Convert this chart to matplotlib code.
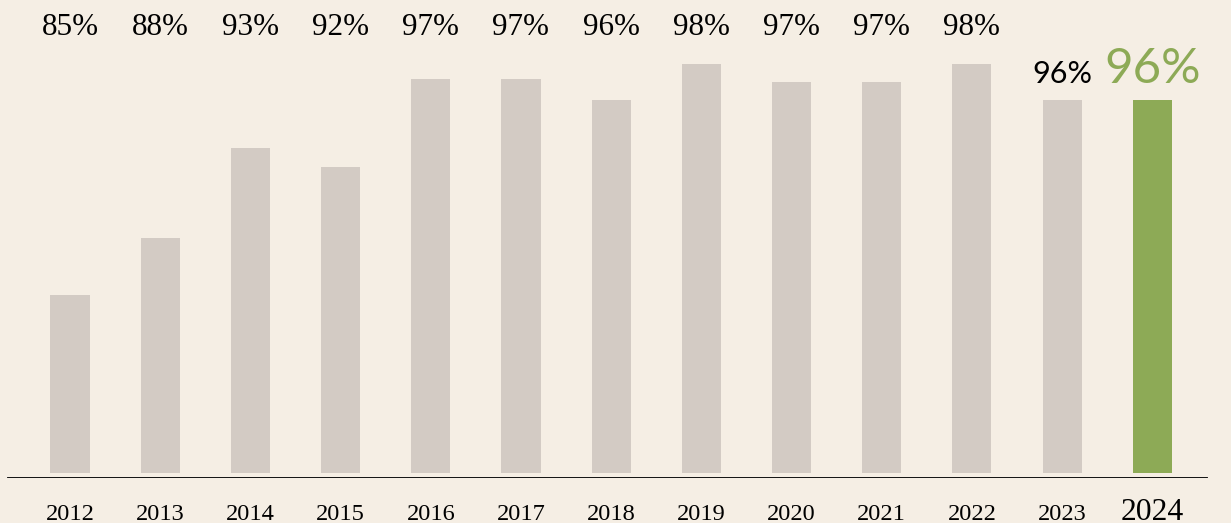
import matplotlib
matplotlib.use("Agg")
import matplotlib.pyplot as plt
import matplotlib.transforms as mtransforms

years = ["2012", "2013", "2014", "2015", "2016", "2017", "2018", "2019", "2020", "2021", "2022", "2023", "2024"]
values = [85.0, 88.2, 93.3, 92.2, 97.2, 97.2, 96.0, 98.0, 97.0, 97.0, 98.0, 96.0, 96.0]
labels = ["85%", "88%", "93%", "92%", "97%", "97%", "96%", "98%", "97%", "97%", "98%", "96%", "96%"]
base = 75.0

BG = "#F5EEE4"
GREY = "#D3CBC4"
GREEN = "#8DAA56"
SERIF = "Liberation Serif"
SANS = "Lato"

fig = plt.figure(figsize=(12.31, 5.23), dpi=100, facecolor=BG)
ax = fig.add_axes([0, 45 / 523, 1, 478 / 523])
ax.set_facecolor(BG)

n = len(years)
xs = list(range(n))
colors = [GREY] * (n - 1) + [GREEN]
ax.bar(xs, [v - base for v in values], bottom=base, width=0.433, color=colors, zorder=2)

ax.set_xlim(-0.776, 12.872)
ax.set_ylim(74.72, 74.72 + 478 / 17.77)
for s in ax.spines.values():
    s.set_visible(False)
ax.set_xticks([])
ax.set_yticks([])
ax.axhline(74.72, xmin=8 / 1231, xmax=1207 / 1231, color="black", lw=1.3, zorder=3)

trans = mtransforms.blended_transform_factory(ax.transData, ax.transAxes)
for i, (yr, lab, v) in enumerate(zip(years, labels, values)):
    last = i == n - 1
    ax.text(i, -0.088, yr, transform=trans, ha="center", va="baseline",
            fontsize=22.8 if last else 17.6, family=SERIF, color="black", clip_on=False)
    if i < n - 2:
        ax.text(i, 0.9268, lab, transform=trans, ha="center", va="baseline",
                fontsize=22.4, family=SERIF, color="black")
    else:
        ax.annotate(lab, (i, v), xytext=(0, 12.2), textcoords="offset points",
                    ha="center", va="baseline", family=SANS,
                    fontsize=35.5 if last else 22,
                    color=GREEN if last else "black")

fig.savefig("out.png", dpi=100, facecolor=BG)
